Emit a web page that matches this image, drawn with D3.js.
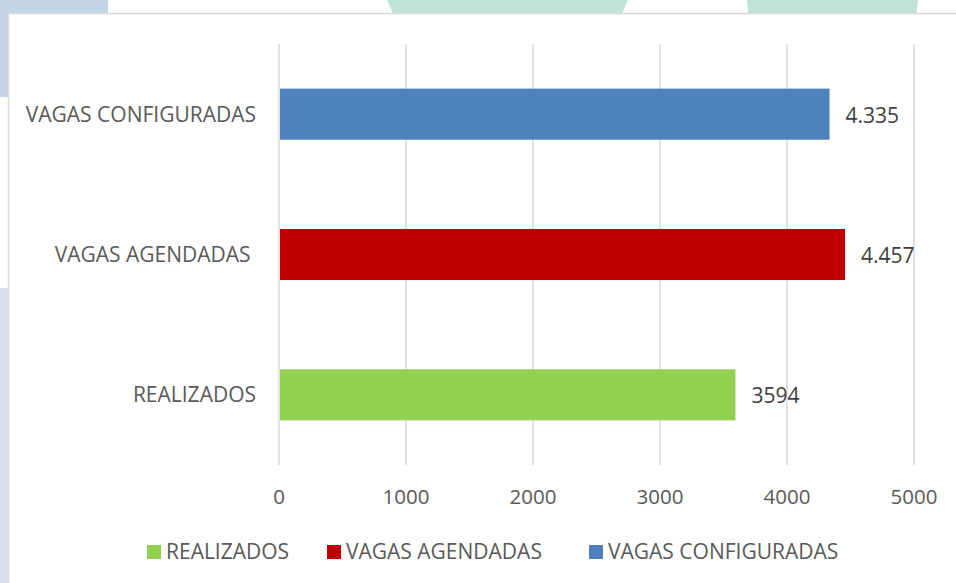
<!DOCTYPE html>
<html>
<head>
<meta charset="utf-8">
<script src="https://cdn.jsdelivr.net/npm/d3@7"></script>
<style>
  html, body { margin: 0; padding: 0; background: #fff; overflow: hidden; }
  svg text { font-family: "Open Sans", "DejaVu Sans", sans-serif; white-space: pre; }
</style>
</head>
<body>
<div id="chart"></div>
<script>
// Chart values
const categories = ["VAGAS CONFIGURADAS", "VAGAS AGENDADAS ", "REALIZADOS"];
const values = [4335, 4457, 3594];
const valueLabels = ["4.335", "4.457", "3594"];
const barColors = ["#4f81bd", "#c00000", "#92d050"];
const ticks = [0, 1000, 2000, 3000, 4000, 5000];
const legendOrder = ["REALIZADOS", "VAGAS AGENDADAS", "VAGAS CONFIGURADAS"];
const legendColors = ["#92d050", "#c00000", "#4f81bd"];

const width = 956, height = 583;
const margin = { top: 44, right: 42, bottom: 118, left: 279 };

const svg = d3.select("#chart")
    .append("svg")
    .attr("width", width)
    .attr("height", height);

// Background decorations behind the chart frame
svg.append("rect").attr("x", 0).attr("y", 0).attr("width", 108).attr("height", 97).attr("fill", "#c3d4e7");
svg.append("rect").attr("x", 0).attr("y", 288).attr("width", 20).attr("height", 300).attr("fill", "#d6e0ea");
svg.append("polygon").attr("points", "387,0 628,0 619,20 396,20").attr("fill", "#c0e2d9");
svg.append("polygon").attr("points", "747,0 918,0 916,20 749,20").attr("fill", "#c0e2d9");

// Chart frame
svg.append("rect")
    .attr("x", 8.5).attr("y", 13.5)
    .attr("width", 980).attr("height", 600)
    .attr("fill", "#fff")
    .attr("stroke", "#d9d9d9")
    .attr("stroke-width", 1.5);

const x = d3.scaleLinear()
    .domain([0, 5000])
    .range([margin.left, width - margin.right]);

const y = d3.scaleBand()
    .domain(categories)
    .range([margin.top, height - margin.bottom])
    .paddingInner(0.636)
    .paddingOuter(0.318);

// Gridlines
svg.append("g")
    .selectAll("line")
    .data(ticks)
    .join("line")
    .attr("x1", d => x(d)).attr("x2", d => x(d))
    .attr("y1", margin.top).attr("y2", height - margin.bottom)
    .attr("stroke", "#d9d9d9")
    .attr("stroke-width", 1.5);

// Tick labels
svg.append("g")
    .selectAll("text")
    .data(ticks)
    .join("text")
    .attr("x", d => x(d))
    .attr("y", 497)
    .attr("dy", "0.35em")
    .attr("text-anchor", "middle")
    .attr("fill", "#595959")
    .style("font-size", "20.5px")
    .text(d => d);

// Bars
svg.append("g")
    .selectAll("rect")
    .data(categories)
    .join("rect")
    .attr("x", x(0) + 1)
    .attr("y", d => y(d))
    .attr("width", (d, i) => x(values[i]) - x(0) - 1)
    .attr("height", y.bandwidth())
    .attr("fill", (d, i) => barColors[i]);

// Value labels
svg.append("g")
    .selectAll("text")
    .data(categories)
    .join("text")
    .attr("x", (d, i) => x(values[i]) + 16)
    .attr("y", d => y(d) + y.bandwidth() / 2 + 1)
    .attr("dy", "0.35em")
    .attr("fill", "#404040")
    .style("font-size", "21px")
    .text((d, i) => valueLabels[i]);

// Category labels
svg.append("g")
    .selectAll("text")
    .data(categories)
    .join("text")
    .attr("x", 256)
    .attr("y", d => y(d) + y.bandwidth() / 2)
    .attr("dy", "0.35em")
    .attr("text-anchor", "end")
    .attr("fill", "#595959")
    .style("font-size", "21px")
    .text(d => d.trimEnd() === d ? d : d.trimEnd() + " ");

// Legend
const legendX = [147, 327, 589];
const legend = svg.append("g")
    .selectAll("g")
    .data(legendOrder)
    .join("g")
    .attr("transform", (d, i) => `translate(${legendX[i]}, 545)`);

legend.append("rect")
    .attr("width", 14).attr("height", 14)
    .attr("fill", (d, i) => legendColors[i]);

legend.append("text")
    .attr("x", 19)
    .attr("y", 7)
    .attr("dy", "0.35em")
    .attr("fill", "#595959")
    .style("font-size", "21px")
    .text(d => d);
</script>
</body>
</html>
